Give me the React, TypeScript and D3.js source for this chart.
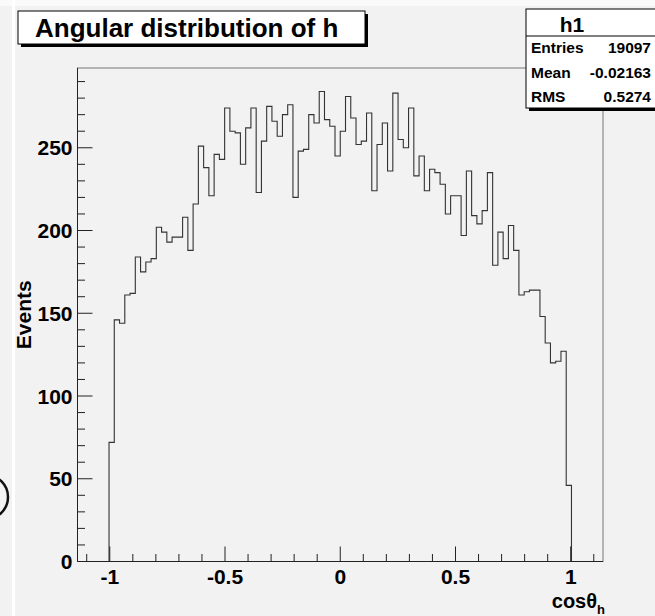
import React, { useEffect, useRef } from 'react';
import * as d3 from 'd3';

// histogram h1: 100 bins on [-1.14, 1.14], only bins 6..93 are filled
const histLow = -1.14;
const histHigh = 1.14;
const nBins = 100;
const firstFilledBin = 6;
const counts = [
  72, 146, 144, 161, 162, 184, 175, 181, 183, 202,
  199, 193, 196, 196, 208, 188, 216, 251, 238, 221,
  246, 243, 274, 260, 259, 240, 262, 274, 223, 254,
  275, 266, 257, 270, 276, 220, 248, 249, 270, 265,
  284, 267, 263, 245, 260, 281, 268, 252, 254, 271,
  224, 252, 265, 236, 283, 255, 250, 274, 233, 245,
  224, 237, 235, 228, 210, 221, 221, 197, 236, 209,
  204, 212, 235, 179, 199, 183, 203, 188, 161, 163,
  164, 164, 148, 132, 120, 121, 127, 46,
];

const xMajorTicks = [-1, -0.5, 0, 0.5, 1];
const xTickLabels = ['-1', '-0.5', '0', '0.5', '1'];
const yMajorTicks = [0, 50, 100, 150, 200, 250];

const statLabels = ['Entries', 'Mean', 'RMS'];
const statValues = ['19097', '-0.02163', '0.5274'];

const FONT = '"Liberation Sans", Arial, Helvetica, sans-serif';

const App = () => {
  const svgRef = useRef<SVGSVGElement>(null);

  useEffect(() => {
    const W = 655;
    const H = 616;
    const svg = d3.select(svgRef.current);
    svg.selectAll('*').remove();
    svg.attr('width', W).attr('height', H);

    // canvas background + screenshot bits
    svg.append('rect').attr('width', W).attr('height', H).attr('fill', '#f2f2f2');
    svg.append('rect').attr('x', 0).attr('y', 0).attr('width', W).attr('height', 6).attr('fill', '#fafafa');
    svg.append('rect').attr('x', 12).attr('y', 0).attr('width', 3).attr('height', H).attr('fill', '#ffffff');
    svg.append('circle')
      .attr('cx', -14).attr('cy', 497).attr('r', 22)
      .attr('fill', 'none').attr('stroke', '#111').attr('stroke-width', 2.5);

    const frame = { left: 77.5, right: 603, top: 68, bottom: 561.5 };

    const binWidth = (histHigh - histLow) / nBins;
    const yMax = d3.max(counts)! * 1.05;

    const x = d3.scaleLinear().domain([histLow, histHigh]).range([frame.left, frame.right]);
    const y = d3.scaleLinear().domain([0, yMax]).range([frame.bottom, frame.top]);

    // frame
    svg.append('rect')
      .attr('x', frame.left).attr('y', frame.top)
      .attr('width', frame.right - frame.left).attr('height', frame.bottom - frame.top)
      .attr('fill', 'none').attr('stroke', '#777').attr('stroke-width', 1);

    // histogram outline
    const edge = (i: number) => histLow + (firstFilledBin + i) * binWidth;
    const pts: [number, number][] = [[edge(0), 0]];
    counts.forEach((c, i) => pts.push([edge(i), c]));
    pts.push([edge(counts.length), counts[counts.length - 1]]);
    pts.push([edge(counts.length), 0]);

    const line = d3.line<[number, number]>()
      .x(d => x(d[0]))
      .y(d => y(d[1]))
      .curve(d3.curveStepAfter);

    svg.append('path')
      .datum(pts)
      .attr('fill', 'none')
      .attr('stroke', '#333')
      .attr('stroke-width', 1.1)
      .attr('d', line);

    // axes lines
    const axisG = svg.append('g').attr('stroke', '#222').attr('stroke-width', 1);
    axisG.append('line').attr('x1', frame.left).attr('x2', frame.right)
      .attr('y1', frame.bottom).attr('y2', frame.bottom);
    axisG.append('line').attr('x1', frame.left).attr('x2', frame.left)
      .attr('y1', frame.bottom).attr('y2', frame.top);

    // x ticks (drawn upward, ROOT style)
    const xMinor = d3.range(-11, 12).map(k => k / 10);
    const majorLen = 15;
    const minorLen = 7.5;
    xMinor.forEach(t => {
      const major = xMajorTicks.some(m => Math.abs(m - t) < 1e-9);
      axisG.append('line')
        .attr('x1', x(t)).attr('x2', x(t))
        .attr('y1', frame.bottom).attr('y2', frame.bottom - (major ? majorLen : minorLen));
    });

    // y ticks (drawn rightward)
    const yMinor = d3.range(0, yMax, 10);
    yMinor.forEach(t => {
      const major = t % 50 === 0;
      axisG.append('line')
        .attr('x1', frame.left).attr('x2', frame.left + (major ? majorLen : minorLen))
        .attr('y1', y(t)).attr('y2', y(t));
    });

    // tick labels
    svg.append('g')
      .selectAll('text')
      .data(xMajorTicks)
      .enter()
      .append('text')
      .attr('x', d => x(d))
      .attr('y', frame.bottom + 22)
      .attr('text-anchor', 'middle')
      .attr('font-family', FONT)
      .attr('font-weight', 'bold')
      .attr('font-size', 21)
      .attr('fill', '#000')
      .text((d, i) => xTickLabels[i]);

    svg.append('g')
      .selectAll('text')
      .data(yMajorTicks)
      .enter()
      .append('text')
      .attr('x', frame.left - 5)
      .attr('y', d => y(d) + 7.5)
      .attr('text-anchor', 'end')
      .attr('font-family', FONT)
      .attr('font-weight', 'bold')
      .attr('font-size', 21)
      .attr('fill', '#000')
      .text(d => d);

    // axis titles
    svg.append('text')
      .attr('transform', `translate(31,${(frame.top + frame.bottom) / 2}) rotate(-90)`)
      .attr('text-anchor', 'middle')
      .attr('font-family', FONT)
      .attr('font-weight', 'bold')
      .attr('font-size', 21)
      .text('Events');

    const xt = svg.append('text')
      .attr('x', frame.right + 2)
      .attr('y', frame.bottom + 46)
      .attr('text-anchor', 'end')
      .attr('font-family', FONT)
      .attr('font-weight', 'bold')
      .attr('font-size', 20);
    xt.append('tspan').text('cosθ');
    xt.append('tspan').attr('font-size', 13).attr('dy', 6).text('h');

    // title box
    svg.append('rect').attr('x', 21).attr('y', 14).attr('width', 347).attr('height', 33).attr('fill', '#000');
    svg.append('rect').attr('x', 18).attr('y', 11).attr('width', 347).attr('height', 33)
      .attr('fill', '#fff').attr('stroke', '#000').attr('stroke-width', 1);
    svg.append('text')
      .attr('x', 35).attr('y', 37)
      .attr('font-family', FONT)
      .attr('font-weight', 'bold')
      .attr('font-size', 26)
      .text('Angular distribution of h');

    // stats box
    const sb = { x: 526, y: 9, w: 140, h: 99 };
    svg.append('rect').attr('x', sb.x + 3).attr('y', sb.y + 3).attr('width', sb.w).attr('height', sb.h).attr('fill', '#000');
    svg.append('rect').attr('x', sb.x).attr('y', sb.y).attr('width', sb.w).attr('height', sb.h)
      .attr('fill', '#fff').attr('stroke', '#000').attr('stroke-width', 1);
    svg.append('line').attr('x1', sb.x).attr('x2', sb.x + sb.w).attr('y1', 36).attr('y2', 36)
      .attr('stroke', '#000');
    svg.append('text')
      .attr('x', 572).attr('y', 32)
      .attr('text-anchor', 'middle')
      .attr('font-family', FONT)
      .attr('font-weight', 'bold')
      .attr('font-size', 21)
      .text('h1');

    statLabels.forEach((lab, i) => {
      const by = 53 + i * 24.5;
      svg.append('text')
        .attr('x', 531).attr('y', by)
        .attr('font-family', FONT)
        .attr('font-weight', 'bold')
        .attr('font-size', 15.5)
        .text(lab);
      svg.append('text')
        .attr('x', 651).attr('y', by)
        .attr('text-anchor', 'end')
        .attr('font-family', FONT)
        .attr('font-weight', 'bold')
        .attr('font-size', 15.5)
        .text(statValues[i]);
    });
  }, []);

  return (
    <svg ref={svgRef} style={{ position: 'absolute', left: 0, top: 0, display: 'block' }}></svg>
  );
};

export default App;
